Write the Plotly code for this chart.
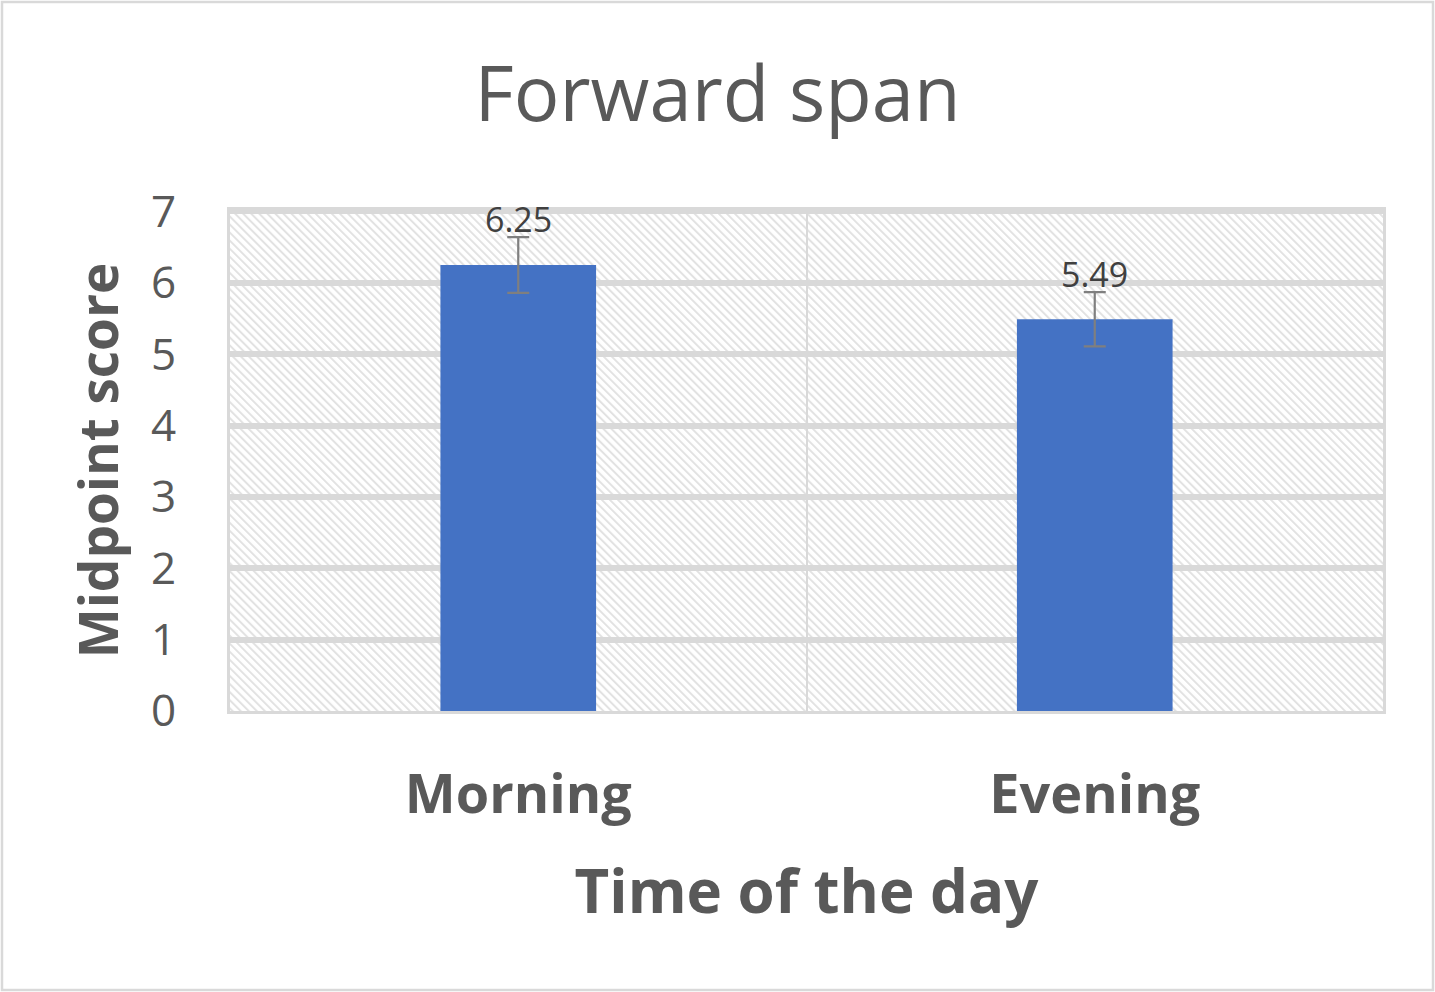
import base64
import plotly.graph_objects as go

# data
categories = ['Morning', 'Evening']
midpoint_scores = [6.25, 5.49]
error_margins = [0.39, 0.38]
y_ticks = [0, 1, 2, 3, 4, 5, 6, 7]

W, H = 1435, 992
margin = dict(l=230, r=52, t=210, b=281)
plot_w = W - margin['l'] - margin['r']
plot_h = H - margin['t'] - margin['b']

# diagonal hatch for the plot background (Excel pattern fill look)
hatch_svg = f'''<svg xmlns="http://www.w3.org/2000/svg" width="{plot_w}" height="{plot_h}" viewBox="0 0 {plot_w} {plot_h}">
<defs><pattern id="h" width="5.7" height="5.7" patternUnits="userSpaceOnUse" patternTransform="rotate(-45)">
<rect x="0" y="0" width="2.0" height="5.7" fill="#e2e2e2"/></pattern></defs>
<rect width="{plot_w}" height="{plot_h}" fill="white"/>
<rect width="{plot_w}" height="{plot_h}" fill="url(#h)"/></svg>'''
hatch_uri = 'data:image/svg+xml;base64,' + base64.b64encode(hatch_svg.encode()).decode()

font = 'Open Sans, Noto Sans, sans-serif'

fig = go.Figure()
fig.add_trace(go.Bar(
    x=categories, y=midpoint_scores,
    width=0.27,
    marker=dict(color='#4472C4', line=dict(width=0)),
    error_y=dict(type='data', array=error_margins, color='#7f7f7f', thickness=2.2, width=11),
    hoverinfo='y',
))

# value labels sit just above the error bar caps
for cat, val, err in zip(categories, midpoint_scores, error_margins):
    fig.add_annotation(x=cat, y=val + err, text=f'{val:.2f}', showarrow=False,
                       yanchor='bottom', yshift=-7,
                       font=dict(family=font, size=34, color='#404040'))

fig.add_layout_image(dict(
    source=hatch_uri, xref='paper', yref='paper', x=0, y=1, sizex=1, sizey=1,
    xanchor='left', yanchor='top', sizing='stretch', layer='below'))

# outer chart border
fig.add_shape(type='rect', xref='paper', yref='paper',
              x0=-(margin['l'] - 2) / plot_w, x1=1 + (margin['r'] - 2) / plot_w,
              y0=-(margin['b'] - 2) / plot_h, y1=1 + (margin['t'] - 2) / plot_h,
              line=dict(color='#d9d9d9', width=2.5), fillcolor='rgba(0,0,0,0)', layer='above')

fig.update_layout(
    width=W, height=H,
    margin=margin,
    paper_bgcolor='white',
    plot_bgcolor='rgba(0,0,0,0)',
    showlegend=False,
    title=dict(text='Forward span', x=0.5, xanchor='center', y=0.905, yanchor='middle',
               font=dict(family=font, size=76, color='#595959')),
    xaxis=dict(
        title=dict(text='<b>Time of the day</b>', standoff=44,
                   font=dict(family=font, size=60, color='#595959')),
        tickfont=dict(family=font, size=54, color='#595959'),
        tickprefix='<b>', ticksuffix='</b>',
        tickson='boundaries', showgrid=True, gridcolor='#d9d9d9', gridwidth=2,
        showline=True, linecolor='#d9d9d9', linewidth=3, mirror=True,
        ticks='', ticklabelstandoff=34,
        range=[-0.5, 1.5],
    ),
    yaxis=dict(
        title=dict(text='<b>Midpoint score</b>', standoff=16,
                   font=dict(family=font, size=53, color='#595959')),
        tickfont=dict(family=font, size=44, color='#595959'),
        tickvals=y_ticks, range=[0, 7.02],
        showgrid=True, gridcolor='#d9d9d9', gridwidth=6,
        showline=True, linecolor='#d9d9d9', linewidth=3, mirror=True,
        zeroline=False, ticks='', ticklabelstandoff=42,
    ),
)

# drop the default page margin so the figure fills the window exactly
fig.write_html('out.html', config={'displayModeBar': False},
               post_script="document.body.style.margin='0';")
